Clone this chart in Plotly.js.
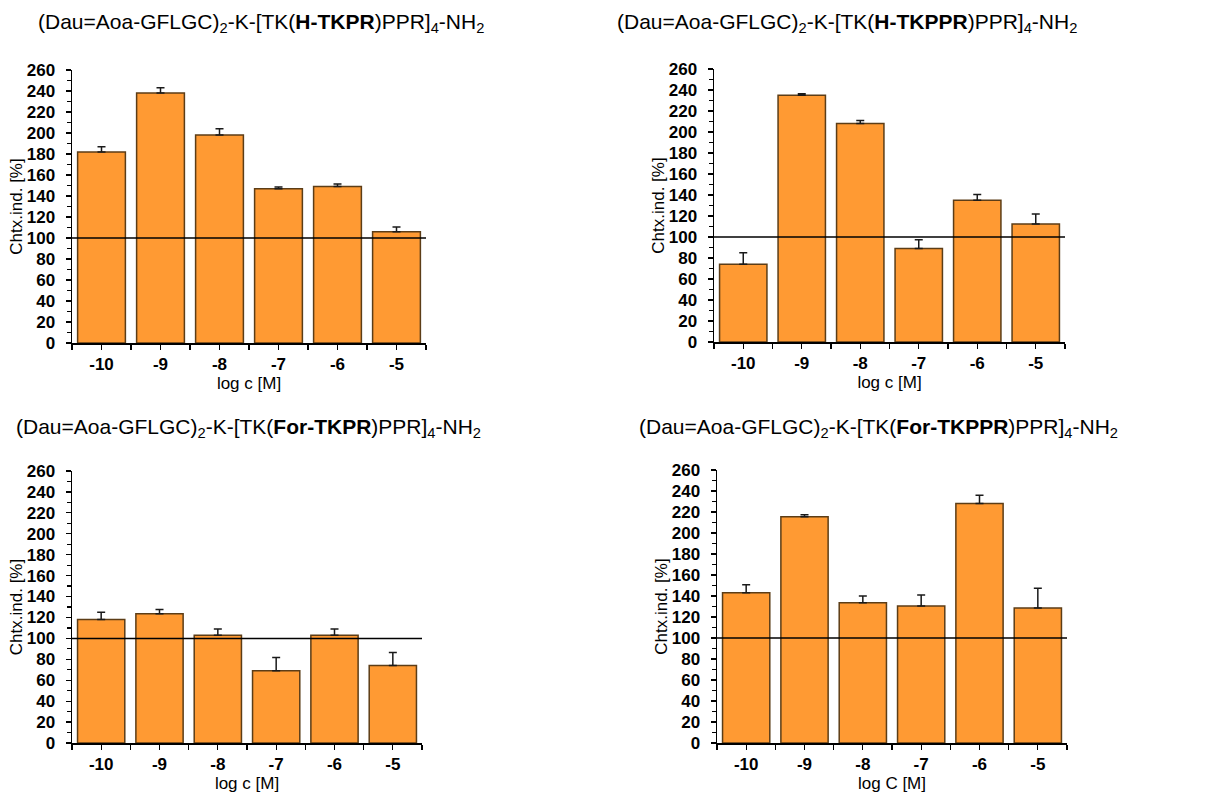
<!DOCTYPE html>
<html>
<head>
<meta charset="utf-8">
<script src="https://cdn.plot.ly/plotly-3.0.1.min.js"></script>
<style>html,body{margin:0;padding:0;background:#fff;}#chart{width:1223px;height:794px;}</style>
</head>
<body>
<div id="chart"></div>
<script>
// Data
const logC = [-10, -9, -8, -7, -6, -5];
const tickLabels = ['-10', '-9', '-8', '-7', '-6', '-5'];

const titleHTKPR = '(Dau=Aoa-GFLGC)<sub>2</sub>-K-[TK(<b>H-TKPR</b>)PPR]<sub>4</sub>-NH<sub>2</sub>';
const titleHTKPPR = '(Dau=Aoa-GFLGC)<sub>2</sub>-K-[TK(<b>H-TKPPR</b>)PPR]<sub>4</sub>-NH<sub>2</sub>';
const titleForTKPR = '(Dau=Aoa-GFLGC)<sub>2</sub>-K-[TK(<b>For-TKPR</b>)PPR]<sub>4</sub>-NH<sub>2</sub>';
const titleForTKPPR = '(Dau=Aoa-GFLGC)<sub>2</sub>-K-[TK(<b>For-TKPPR</b>)PPR]<sub>4</sub>-NH<sub>2</sub>';

const valuesHTKPR = [182, 238, 198, 147, 149, 106];
const errorsHTKPR = [5, 5, 6, 1.5, 2.5, 4.5];

const valuesHTKPPR = [74, 235, 208, 89, 135, 112.5];
const errorsHTKPPR = [11, 1.5, 3, 8.5, 5.5, 9.5];

const valuesForTKPR = [118, 123.5, 103, 69, 103, 74];
const errorsForTKPR = [7, 4, 6, 12.7, 6, 12.4];

const valuesForTKPPR = [143, 215.5, 133.5, 130.5, 228, 128.5];
const errorsForTKPPR = [7.6, 2, 6.4, 10.5, 8, 18.8];

const zeroMinus = [0, 0, 0, 0, 0, 0];

const xTitles = ['log c [M]', 'log c [M]', 'log c [M]', 'log C [M]'];
const yTitle = 'Chtx.ind. [%]';
const refLevel = 100;

// Layout geometry (pixels)
const W = 1223, H = 794;
const panels = [
  {title: titleHTKPR, vals: valuesHTKPR, errs: errorsHTKPR, x0: 72, x1: 426, yTop: 70, yBot: 343, tx: 261, ty: 23},
  {title: titleHTKPPR, vals: valuesHTKPPR, errs: errorsHTKPPR, x0: 714, x1: 1065, yTop: 69, yBot: 342, tx: 847, ty: 23},
  {title: titleForTKPR, vals: valuesForTKPR, errs: errorsForTKPR, x0: 72, x1: 422, yTop: 471, yBot: 743, tx: 248, ty: 428},
  {title: titleForTKPPR, vals: valuesForTKPPR, errs: errorsForTKPPR, x0: 717, x1: 1067, yTop: 470, yBot: 743, tx: 878, ty: 428}
];

const FONT = 'Liberation Sans, Arial, sans-serif';
const traces = [];
const layout = {
  width: W, height: H,
  margin: {l: 0, r: 0, t: 0, b: 0},
  paper_bgcolor: '#ffffff',
  plot_bgcolor: '#ffffff',
  showlegend: false,
  font: {family: FONT, color: '#000'},
  shapes: [],
  annotations: [],
  bargap: 0.19
};

panels.forEach((p, i) => {
  const n = i + 1;
  const xa = 'x' + (n === 1 ? '' : n);
  const ya = 'y' + (n === 1 ? '' : n);
  traces.push({
    type: 'bar',
    x: logC,
    y: p.vals,
    xaxis: xa, yaxis: ya,
    marker: {color: '#FF9A33', line: {color: '#5c3d17', width: 1.5}},
    error_y: {type: 'data', symmetric: false, array: p.errs, arrayminus: zeroMinus,
              color: '#1a1a1a', thickness: 1.5, width: 4},
    hoverinfo: 'skip'
  });
  const xKey = 'xaxis' + (n === 1 ? '' : n);
  const yKey = 'yaxis' + (n === 1 ? '' : n);
  layout[xKey] = {
    domain: [p.x0 / W, p.x1 / W],
    anchor: ya,
    range: [-10.5, -4.5],
    tickmode: 'array', tickvals: logC, ticktext: tickLabels,
    ticks: 'outside', ticklen: 5, tickwidth: 1.2, tickcolor: '#000',
    ticklabelstandoff: 0,
    minor: {dtick: 1, tick0: -10.5, ticks: 'outside', ticklen: 5, tickwidth: 1.2, tickcolor: '#000', showgrid: false},
    showline: true, linecolor: '#000', linewidth: 1.5,
    showgrid: false, zeroline: false,
    tickfont: {family: FONT, size: 17, weight: 'bold', color: '#000'},
    title: {text: xTitles[i], font: {family: FONT, size: 17, color: '#000'}, standoff: 2},
    fixedrange: true
  };
  layout[yKey] = {
    domain: [1 - p.yBot / H, 1 - p.yTop / H],
    anchor: xa,
    range: [0, 260],
    tickmode: 'linear', tick0: 0, dtick: 20,
    ticks: 'outside', ticklen: 5, tickwidth: 1.2, tickcolor: '#000',
    ticklabelstandoff: 7,
    minor: {dtick: 10, ticks: 'outside', ticklen: 4, tickwidth: 1.2, tickcolor: '#000', showgrid: false},
    showline: true, linecolor: '#000', linewidth: 1.5,
    showgrid: false, zeroline: false,
    tickfont: {family: FONT, size: 17, weight: 'bold', color: '#000'},
    title: {text: yTitle, font: {family: FONT, size: 17, color: '#000'}, standoff: 0},
    fixedrange: true
  };
  layout.shapes.push({
    type: 'line', xref: xa + ' domain', yref: ya,
    x0: 0, x1: 1, y0: refLevel, y1: refLevel,
    line: {color: '#000', width: 1.5}, layer: 'above'
  });
  layout.annotations.push({
    text: p.title, xref: 'paper', yref: 'paper',
    x: p.tx / W, y: 1 - p.ty / H, xanchor: 'center', yanchor: 'middle',
    showarrow: false, font: {family: FONT, size: 21, color: '#000'}
  });
});

Plotly.newPlot('chart', traces, layout, {displayModeBar: false, staticPlot: true});
</script>
</body>
</html>
